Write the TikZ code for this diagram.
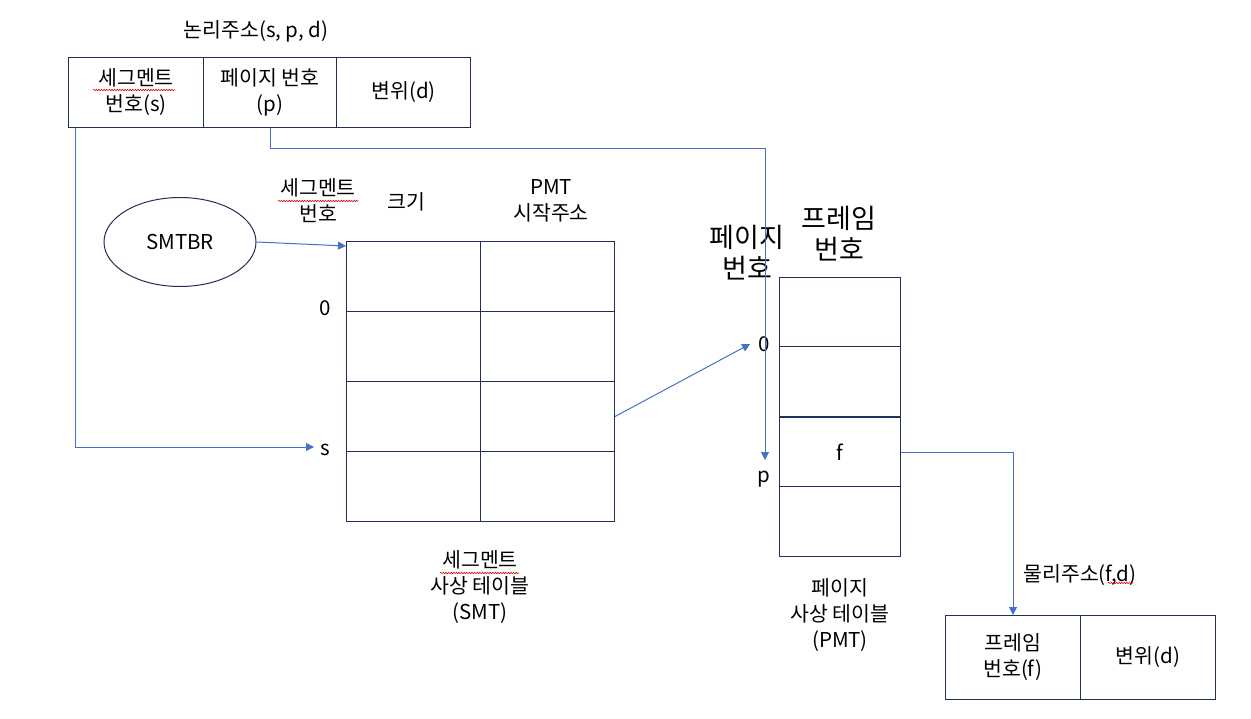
\documentclass[tikz,border=0pt]{standalone}
\usepackage{fontspec}
\setmainfont{Noto Sans CJK KR}
\usetikzlibrary{arrows.meta,shapes.geometric,decorations.pathmorphing,calc}
\definecolor{boxc}{HTML}{1F2F55}
\definecolor{connc}{HTML}{4472C4}
\newcommand{\txt}{\fontsize{20.5}{26}\selectfont}
\newcommand{\bigtxt}{\fontsize{27}{31}\selectfont}
\tikzset{
  cell/.style={draw=boxc, line width=1pt, inner sep=0pt, anchor=north west, align=center, font=\txt},
  lbl/.style={inner sep=0pt, align=center, font=\txt},
  biglbl/.style={inner sep=0pt, align=center, font=\bigtxt},
  conn/.style={draw=connc, line width=1pt, -{Triangle[width=8pt,length=8pt]}},
  wavy/.style={draw=red!85!black, line width=0.6pt, decorate, decoration={snake, amplitude=0.7pt, segment length=2.6pt}}
}
\begin{document}
\begin{tikzpicture}[x=1pt,y=-1pt]
\useasboundingbox[fill=white] (0,0) rectangle (1251,719);

% logical address
\node[lbl] (title) at (256,31) {논리주소(s, p, d)};
\node[cell, minimum width=135, minimum height=70] (seg) at (68,57) {세그멘트\\번호(s)};
\node[cell, minimum width=133, minimum height=70] (pg) at (203,57) {페이지 번호\\(p)};
\node[cell, minimum width=134, minimum height=70] (off) at (336,57) {변위(d)};

% SMTBR
\node[draw=boxc, line width=1pt, ellipse, minimum width=152, minimum height=89, font=\txt] (smtbr) at (180,242) {SMTBR};

% SMT headers
\node[lbl] (hseg) at (318,201) {세그멘트\\번호};
\node[lbl] (hsize) at (406,202) {크기};
\node[lbl] (hpmt) at (551,201) {PMT\\시작주소};

% SMT table
\foreach \r/\y in {1/241,2/311,3/381,4/451}{
  \node[cell, minimum width=134, minimum height=70] (s\r1) at (346,\y) {};
  \node[cell, minimum width=134, minimum height=70] (s\r2) at (480,\y) {};
}
\node[lbl] (sz) at (325,308) {0};
\node[lbl] (sl) at (325,450) {s};
\node[lbl] (smtcap) at (480,587) {세그멘트\\사상 테이블\\(SMT)};

% PMT headers
\node[biglbl] (hpage) at (747,253) {페이지\\번호};
\node[biglbl] (hframe) at (839,234) {프레임\\번호};

% PMT table
\node[cell, minimum width=121, minimum height=69] (p1) at (779,277) {};
\node[cell, minimum width=121, minimum height=71] (p2) at (779,346) {};
\node[cell, minimum width=121, minimum height=69] (p3) at (779,417) {f};
\node[cell, minimum width=121, minimum height=70] (p4) at (779,486) {};
\draw[boxc, line width=2pt] (p3.north west) -- (p3.north east);
\node[lbl] (pz) at (764,344) {0};
\node[lbl] (pl) at (764,479) {p};
\node[lbl] (pmtcap) at (840,615) {페이지\\사상 테이블\\(PMT)};

% physical address
\node[lbl] (phys) at (1080,575) {물리주소(f,d)};
\node[cell, minimum width=135, minimum height=84] (fr) at (945,615) {프레임\\번호(f)};
\node[cell, minimum width=135, minimum height=84] (fo) at (1080,615) {변위(d)};

% spell-check underlines
\draw[wavy] (93,90) -- (175,90);
\draw[wavy] (278,201) -- (358,201);
\draw[wavy] (440,573) -- (519,573);
\draw[wavy] (1108,583) -- (1133,583);

% connectors
\coordinate (segout) at ($(seg.south west)+(7,0)$);
\coordinate (sin) at ($(sl.west)+(-6,-3)$);
\draw[conn] (segout) |- (sin);

\coordinate (pturn) at (765,149);
\coordinate (pin) at (765,460);
\draw[conn] (pg.south) |- (pturn) -- (pin);

\draw[conn] (smtbr.east) -- ([yshift=-5pt]s11.north west);

\coordinate (pzin) at ($(pz.west)+(-8,0)$);
\draw[conn] (s32.east) -- (pzin);

\draw[conn] (p3.east) -| (fr.north);
\end{tikzpicture}
\end{document}
